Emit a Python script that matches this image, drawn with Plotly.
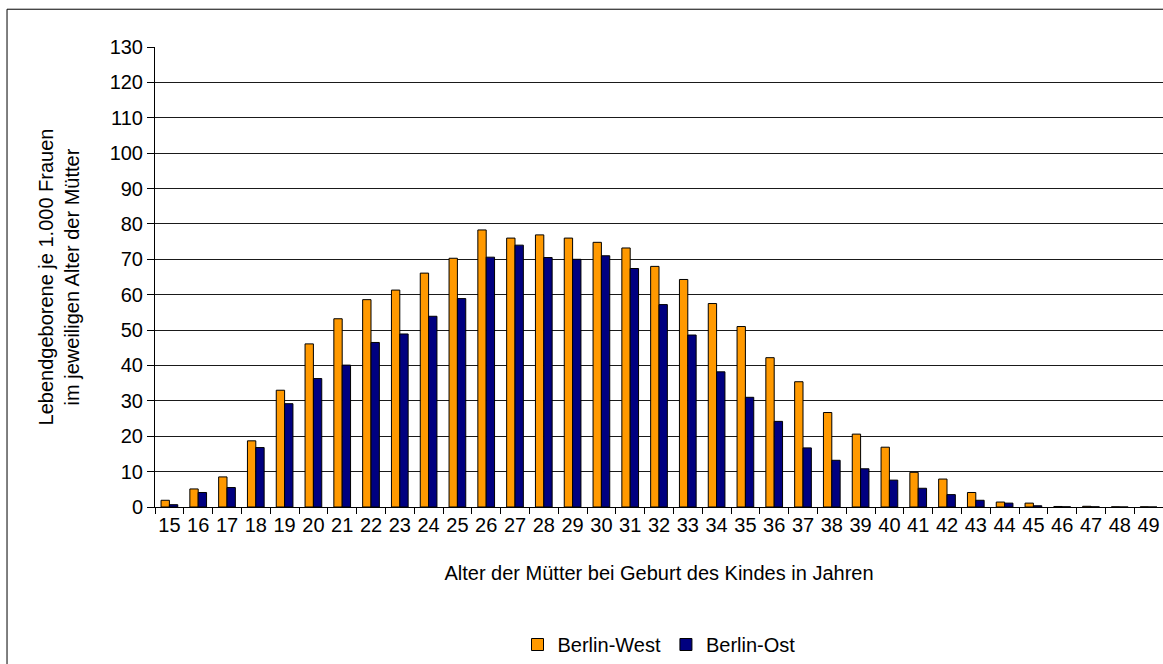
import plotly.graph_objects as go

# Age of mother at birth (years)
ages = [str(a) for a in range(15, 50)]

# Live births per 1,000 women of the respective age
berlin_west = [1.9, 5.1, 8.5, 18.7, 33.0, 46.1, 53.2, 58.6, 61.3, 66.1,
               70.3, 78.3, 76.0, 76.9, 76.0, 74.8, 73.2, 68.0, 64.3, 57.5,
               51.0, 42.2, 35.4, 26.7, 20.6, 16.9, 9.8, 7.9, 4.1, 1.4,
               1.1, 0.15, 0.2, 0.05, 0.05]
berlin_ost = [0.65, 4.1, 5.5, 16.8, 29.2, 36.3, 40.1, 46.5, 48.9, 53.9,
              58.9, 70.6, 74.0, 70.5, 70.0, 71.0, 67.4, 57.2, 48.6, 38.2,
              31.0, 24.2, 16.7, 13.2, 10.8, 7.6, 5.3, 3.5, 1.9, 1.1,
              0.35, 0.05, 0.05, 0.0, 0.0]

y_ticks = list(range(0, 131, 10))

FONT = "Liberation Sans, Arial, sans-serif"
FS = 20

fig = go.Figure()
fig.add_trace(go.Bar(x=ages, y=berlin_west, name="Berlin-West",
                     marker=dict(color="#FF9900", line=dict(color="#000000", width=1))))
fig.add_trace(go.Bar(x=ages, y=berlin_ost, name="Berlin-Ost",
                     marker=dict(color="#000080", line=dict(color="#000000", width=1))))

# Chart-area frame: left and top edges
frame_left, frame_top = -0.1468, 1.0821
frame = [
    dict(type="line", xref="paper", yref="paper",
         x0=frame_left, x1=frame_left, y0=-0.5, y1=frame_top,
         line=dict(color="#000000", width=1), layer="below"),
    dict(type="line", xref="paper", yref="paper",
         x0=frame_left, x1=1.0, y0=frame_top, y1=frame_top,
         line=dict(color="#000000", width=1), layer="below"),
]

fig.update_layout(
    width=1163, height=664,
    margin=dict(l=155, r=0, t=47, b=154),
    paper_bgcolor="white", plot_bgcolor="white",
    font=dict(family=FONT, size=FS, color="#000000"),
    barmode="group", bargap=0.42, bargroupgap=0,
    showlegend=True,
    legend=dict(orientation="h", x=0.5, xanchor="center", y=-0.3, yanchor="middle",
                font=dict(size=FS), itemwidth=30, traceorder="normal"),
    xaxis=dict(
        type="category", tickvals=ages, ticktext=ages, tickangle=0,
        showline=True, linecolor="#000000", linewidth=1,
        ticks="outside", tickson="boundaries", ticklen=6, tickcolor="#000000",
        showgrid=False, tickfont=dict(size=FS),
        title=dict(text="Alter der Mütter bei Geburt des Kindes in Jahren",
                   standoff=30, font=dict(size=FS)),
    ),
    yaxis=dict(
        range=[0, 130], tickvals=y_ticks,
        showline=True, linecolor="#000000", linewidth=1,
        ticks="outside", ticklen=7, tickcolor="#000000",
        showgrid=True, gridcolor="#1a1a1a", gridwidth=1, zeroline=False,
        tickfont=dict(size=FS),
        title=dict(text="Lebendgeborene je 1.000 Frauen<br>im jeweiligen Alter der Mütter",
                   standoff=24, font=dict(size=FS)),
    ),
    shapes=frame,
)

fig.write_html("out.html")
